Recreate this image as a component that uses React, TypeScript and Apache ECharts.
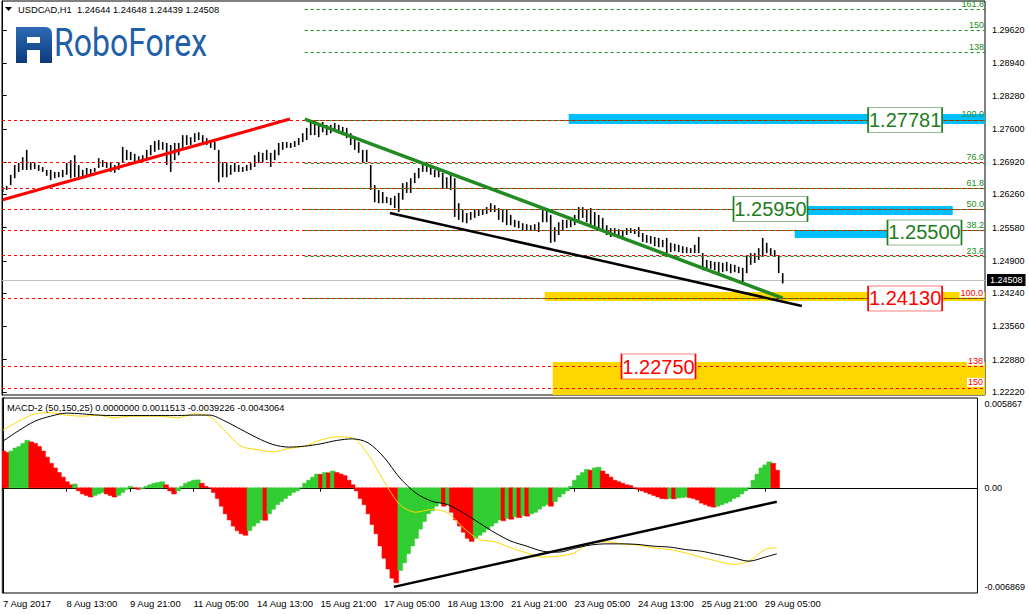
import React, { useEffect, useRef } from 'react';
import * as echarts from 'echarts';

const FONT = "'Liberation Sans', Arial, sans-serif";

const headerText = 'USDCAD,H1  1.24644 1.24648 1.24439 1.24508';
const macdHeaderText = 'MACD-2 (50,150,25) 0.0000000 0.0011513 -0.0039226 -0.0043064';

// 2-hour OHLC bars (high / low)
const priceHigh = [
  1.2641, 1.2643, 1.2666, 1.2686, 1.2690, 1.2702, 1.2717, 1.2692, 1.2690, 1.2686,
  1.2682, 1.2676, 1.2676, 1.2672, 1.2672, 1.2676, 1.2690, 1.2696, 1.2706, 1.2686,
  1.2676, 1.2680, 1.2678, 1.2680, 1.2700, 1.2696, 1.2692, 1.2690, 1.2686, 1.2692,
  1.2723, 1.2717, 1.2713, 1.2709, 1.2704, 1.2706, 1.2717, 1.2727, 1.2735, 1.2737,
  1.2733, 1.2731, 1.2727, 1.2731, 1.2731, 1.2747, 1.2747, 1.2743, 1.2751, 1.2753,
  1.2747, 1.2741, 1.2737, 1.2733, 1.2717, 1.2692, 1.2690, 1.2686, 1.2690, 1.2686,
  1.2682, 1.2686, 1.2690, 1.2706, 1.2713, 1.2711, 1.2717, 1.2711, 1.2717, 1.2731,
  1.2733, 1.2733, 1.2731, 1.2735, 1.2741, 1.2751, 1.2762, 1.2774, 1.2778, 1.2772,
  1.2774, 1.2768, 1.2768, 1.2772, 1.2768, 1.2764, 1.2762, 1.2751, 1.2741, 1.2733,
  1.2717, 1.2717, 1.2686, 1.2645, 1.2635, 1.2631, 1.2621, 1.2619, 1.2623, 1.2629,
  1.2649, 1.2651, 1.2659, 1.2670, 1.2680, 1.2690, 1.2692, 1.2682, 1.2676, 1.2676,
  1.2670, 1.2661, 1.2666, 1.2659, 1.2608, 1.2594, 1.2588, 1.2590, 1.2594, 1.2594,
  1.2594, 1.2600, 1.2608, 1.2604, 1.2598, 1.2594, 1.2594, 1.2584, 1.2574, 1.2572,
  1.2567, 1.2565, 1.2563, 1.2565, 1.2569, 1.2594, 1.2598, 1.2584, 1.2559, 1.2569,
  1.2574, 1.2574, 1.2574, 1.2584, 1.2600, 1.2600, 1.2594, 1.2598, 1.2590, 1.2584,
  1.2578, 1.2563, 1.2557, 1.2557, 1.2555, 1.2553, 1.2557, 1.2557, 1.2555, 1.2559,
  1.2547, 1.2543, 1.2541, 1.2539, 1.2537, 1.2533, 1.2537, 1.2527, 1.2525, 1.2523,
  1.2520, 1.2518, 1.2516, 1.2523, 1.2539, 1.2506, 1.2492, 1.2490, 1.2488, 1.2488,
  1.2486, 1.2488, 1.2484, 1.2482, 1.2478, 1.2476, 1.2502, 1.2506, 1.2506, 1.2516,
  1.2537, 1.2527, 1.2516, 1.2512, 1.2502, 1.2465,
];
const priceLow = [
  1.2631, 1.2635, 1.2645, 1.2659, 1.2672, 1.2676, 1.2676, 1.2676, 1.2678, 1.2674,
  1.2672, 1.2664, 1.2655, 1.2659, 1.2661, 1.2661, 1.2666, 1.2659, 1.2661, 1.2659,
  1.2661, 1.2666, 1.2666, 1.2672, 1.2680, 1.2682, 1.2680, 1.2672, 1.2670, 1.2676,
  1.2690, 1.2696, 1.2696, 1.2692, 1.2696, 1.2692, 1.2700, 1.2706, 1.2713, 1.2717,
  1.2717, 1.2686, 1.2672, 1.2696, 1.2706, 1.2721, 1.2727, 1.2727, 1.2733, 1.2737,
  1.2733, 1.2727, 1.2721, 1.2717, 1.2651, 1.2661, 1.2661, 1.2666, 1.2672, 1.2672,
  1.2672, 1.2674, 1.2676, 1.2682, 1.2690, 1.2692, 1.2696, 1.2682, 1.2696, 1.2706,
  1.2717, 1.2721, 1.2721, 1.2723, 1.2727, 1.2733, 1.2737, 1.2747, 1.2747, 1.2743,
  1.2753, 1.2747, 1.2751, 1.2758, 1.2751, 1.2747, 1.2741, 1.2727, 1.2717, 1.2711,
  1.2690, 1.2692, 1.2635, 1.2610, 1.2608, 1.2608, 1.2608, 1.2604, 1.2598, 1.2590,
  1.2615, 1.2629, 1.2629, 1.2649, 1.2659, 1.2672, 1.2672, 1.2666, 1.2661, 1.2661,
  1.2639, 1.2639, 1.2635, 1.2580, 1.2574, 1.2569, 1.2567, 1.2574, 1.2578, 1.2582,
  1.2584, 1.2586, 1.2590, 1.2590, 1.2574, 1.2569, 1.2563, 1.2563, 1.2559, 1.2557,
  1.2553, 1.2553, 1.2553, 1.2551, 1.2549, 1.2569, 1.2569, 1.2527, 1.2529, 1.2543,
  1.2553, 1.2557, 1.2559, 1.2563, 1.2574, 1.2578, 1.2569, 1.2563, 1.2559, 1.2557,
  1.2549, 1.2543, 1.2539, 1.2541, 1.2539, 1.2539, 1.2543, 1.2547, 1.2545, 1.2539,
  1.2529, 1.2527, 1.2525, 1.2520, 1.2518, 1.2518, 1.2506, 1.2508, 1.2510, 1.2508,
  1.2506, 1.2506, 1.2506, 1.2506, 1.2506, 1.2471, 1.2471, 1.2474, 1.2471, 1.2465,
  1.2467, 1.2469, 1.2465, 1.2467, 1.2465, 1.2445, 1.2465, 1.2482, 1.2486, 1.2492,
  1.2498, 1.2506, 1.2502, 1.2498, 1.2465, 1.2444,
];
const barHours = priceHigh.map((_, i) => i * 2);

// MACD-2 histogram (same 2-hour slots)
const macdHist = [
  0.0024, 0.0023, 0.0024, 0.0026, 0.0027, 0.0029, 0.0031, 0.0030, 0.0029, 0.0027,
  0.0024, 0.0020, 0.0016, 0.0013, 0.0010, 0.0007, 0.0004, 0.0002, 0.00025, -0.0002,
  -0.0004, -0.0005, -0.0006, -0.0005, -0.0004, -0.0003, -0.0004, -0.0005, -0.0006, -0.0005,
  -0.0003, -0.0001, 0.0001, 0.0000, -0.0001, -0.00005, 0.0001, 0.0002, 0.0003, 0.00035,
  0.0004, 0.0002, -0.0002, -0.0004, -0.0002, 0.0001, 0.0003, 0.0004, 0.0005, 0.00052,
  0.0003, 0.0001, 0.0000, -0.0003, -0.0007, -0.0012, -0.0017, -0.0021, -0.0025, -0.0028,
  -0.0030, -0.0031, -0.0028, -0.0025, -0.0023, -0.0021, -0.00212, -0.0017, -0.0014, -0.0011,
  -0.0009, -0.0007, -0.0005, -0.0003, -0.0002, 0.0000, 0.0003, 0.0005, 0.0007, 0.0009,
  0.00088, 0.0010, 0.00098, 0.0011, 0.0010, 0.0009, 0.0008, 0.0005, 0.0002, -0.0002,
  -0.0007, -0.0011, -0.0017, -0.0024, -0.0030, -0.0038, -0.0046, -0.0053, -0.0059, -0.0062,
  -0.0054, -0.0049, -0.0043, -0.0038, -0.0033, -0.0027, -0.0022, -0.0017, -0.0015, -0.0012,
  -0.0010, -0.0012, -0.0011, -0.0016, -0.0021, -0.0025, -0.0029, -0.0033, -0.0035, -0.0033,
  -0.0031, -0.0029, -0.0027, -0.0025, -0.0023, -0.0021, -0.00215, -0.0020, -0.00205, -0.0019,
  -0.00195, -0.0018, -0.00185, -0.0017, -0.0016, -0.0014, -0.0012, -0.0011, -0.0012, -0.0009,
  -0.0006, -0.0004, -0.0002, 0.0001, 0.0005, 0.0008, 0.0010, 0.0012, 0.00115, 0.0013,
  0.00135, 0.0011, 0.0009, 0.0007, 0.0005, 0.0004, 0.0003, 0.0002, 0.00015, 0.0000,
  -0.0001, -0.0002, -0.0003, -0.0004, -0.0005, -0.0006, -0.0007, -0.00072, -0.00068, -0.00072,
  -0.00066, -0.00064, -0.0006, -0.00065, -0.0007, -0.0008, -0.0010, -0.0011, -0.0012, -0.00126,
  -0.0012, -0.0011, -0.0010, -0.0009, -0.0007, -0.0006, -0.0004, -0.0002, 0.0000, 0.0005,
  0.0009, 0.0013, 0.0015, 0.0017, 0.0016, 0.00115,
];

// MACD lines, sampled every 8 hours
const lineHours = [
  0, 8, 16, 24, 32, 40, 48, 56, 64, 72, 80, 88, 96, 104, 112, 120, 128, 136, 144, 152,
  160, 168, 176, 184, 192, 200, 208, 216, 224, 232, 240, 248, 256, 264, 272, 280, 288, 296, 304, 312,
  320, 328, 336, 344, 352, 360, 368, 376, 384, 390,
];
const macdMain = [
  0.00377, 0.00435, 0.00483, 0.0049, 0.00475, 0.00468, 0.00475, 0.00457, 0.00468, 0.00468,
  0.00468, 0.00457, 0.00483, 0.00468, 0.0037, 0.00272, 0.0025, 0.00235, 0.00257, 0.00272,
  0.00311, 0.00333, 0.00327, 0.00218, 0.00044, -0.00109, -0.00159, -0.00142, -0.00163, -0.00261,
  -0.00337, -0.00353, -0.00392, -0.00425, -0.00453, -0.00446, -0.00425, -0.00359, -0.00353, -0.00366,
  -0.00374, -0.00392, -0.00403, -0.00425, -0.00453, -0.00479, -0.005, -0.00479, -0.00403, -0.00392,
];
const macdSignal = [
  0.00305, 0.00374, 0.00435, 0.00468, 0.00488, 0.00483, 0.00475, 0.00472, 0.00472, 0.00472,
  0.00472, 0.00472, 0.00475, 0.00475, 0.00435, 0.00381, 0.00327, 0.00283, 0.00266, 0.00272,
  0.00287, 0.00309, 0.0032, 0.00294, 0.002, 0.00065, -0.00033, -0.00087, -0.00109, -0.00163,
  -0.00229, -0.00294, -0.00348, -0.00381, -0.00414, -0.0042, -0.00396, -0.00374, -0.00366, -0.00366,
  -0.0037, -0.00381, -0.00387, -0.00403, -0.00414, -0.00435, -0.00457, -0.00479, -0.00453, -0.00431,
];

// axis ticks
const priceTicks = [1.2962, 1.2894, 1.2828, 1.276, 1.2692, 1.2626, 1.2558, 1.249, 1.2424, 1.2356, 1.2288, 1.2222];
const timeTickHours = [0, 32, 64, 96, 128, 160, 192, 224, 256, 288, 320, 352, 384];
const timeTickLabels = [
  '7 Aug 2017', '8 Aug 13:00', '9 Aug 21:00', '11 Aug 05:00', '14 Aug 13:00', '15 Aug 21:00',
  '17 Aug 05:00', '18 Aug 13:00', '21 Aug 21:00', '23 Aug 05:00', '24 Aug 13:00', '25 Aug 21:00', '29 Aug 05:00',
];
const macdLabelValues = [0.005475, 0, -0.006477];
const macdTickLabels = ['0.005867', '0.00', '-0.006869'];

const priceMin = 1.22159;
const priceMax = 1.30213;
const macdMin = -0.006869;
const macdMax = 0.005867;
const hourMin = -0.35;
const hourMax = 491.15;
const lastPrice = 1.24508;

// drawn objects (data coordinates: hour index, price)
const redTrend = [[0, 1.2615], [143.6, 1.278]];
const greenTrend = [[151, 1.278], [390, 1.2414]];
const blackTrend = [[193.6, 1.2588], [399.6, 1.2398]];
const macdTrend = [[197, -0.00647], [390, -0.00091]];

const fibHigh = 1.27781;
const fibLow = 1.2413;
const greenFibStartHour = 151;
const greenFibLevels = [0, 23.6, 38.2, 50, 61.8, 76, 100, 138, 150, 161.8];
const greenFibLabels = ['', '23.6', '38.2', '50.0', '61.8', '76.0', '100.0', '138', '150', '161.8'];
const redFibLevels = [0, 23.6, 38.2, 50, 61.8, 76, 100, 138, 150];
const redFibLabels = ['', '', '', '', '', '', '100.0', '138', '150'];

const zones = [
  { from: [283, 1.27698], to: [hourMax, 1.27903], color: '#00BFFF' },
  { from: [402.6, 1.25838], to: [475, 1.26022], color: '#00BFFF' },
  { from: [396, 1.25368], to: [479, 1.25532], color: '#00BFFF' },
  { from: [271, 1.2408], to: [hourMax, 1.24264], color: '#FFD700' },
  { from: [275, priceMin], to: [hourMax, 1.22834], color: '#FFD700' },
];
const labelBoxes = [
  { text: '1.27781', at: [451.2, 1.27781], color: '#1e7d1e' },
  { text: '1.25950', at: [383.9, 1.2596], color: '#1e7d1e' },
  { text: '1.25500', at: [460.9, 1.25481], color: '#1e7d1e' },
  { text: '1.24130', at: [451.2, 1.24132], color: '#ff0000' },
  { text: '1.22750', at: [327.9, 1.22741], color: '#ff0000' },
];

const LOGO_PATH = 'M0 0 H29 Q36 0 36 7 V36 H24 V23 H11 V36 H0 Z M11 10 V16 H24 V10 Z';

const FIB_GREEN = '#1a8c1a';
const FIB_RED = '#ff0000';

function buildOption() {
  const fibRange = fibHigh - fibLow;
  const greenFibData = greenFibLevels.map((r, i) => {
    const p = fibLow + (r / 100) * fibRange;
    return [
      { coord: [greenFibStartHour, p], label: { show: greenFibLabels[i] !== '', formatter: greenFibLabels[i] } },
      { coord: [hourMax, p] },
    ];
  });
  const redFibData = redFibLevels.map((r, i) => {
    const p = fibHigh - (r / 100) * fibRange;
    return [
      { coord: [hourMin, p], label: { show: redFibLabels[i] !== '', formatter: redFibLabels[i] } },
      { coord: [hourMax, p] },
    ];
  });

  const logoFill = new echarts.graphic.LinearGradient(0, 0, 0, 1, [
    { offset: 0, color: '#2e6bb6' },
    { offset: 1, color: '#0b3a7b' },
  ]);

  return {
    animation: false,
    backgroundColor: '#ffffff',
    textStyle: { fontFamily: FONT },
    grid: [
      { left: 2, top: 1, width: 983, height: 394, show: true, borderColor: '#000', borderWidth: 1, backgroundColor: 'transparent' },
      { left: 2, top: 398, width: 983, height: 195, show: true, borderColor: '#000', borderWidth: 1, backgroundColor: 'transparent' },
    ],
    xAxis: [
      { type: 'value', gridIndex: 0, min: hourMin, max: hourMax, show: false },
      {
        type: 'value', gridIndex: 1, min: hourMin, max: hourMax, position: 'bottom',
        axisLine: { show: true, lineStyle: { color: '#000', width: 1 } },
        axisTick: { show: true, length: 4, lineStyle: { color: '#000' }, customValues: timeTickHours },
        axisLabel: {
          customValues: timeTickHours,
          formatter: (v: number) => {
            const i = timeTickHours.findIndex((h) => Math.abs(h - v) < 0.01);
            return i >= 0 ? timeTickLabels[i] : '';
          },
          align: 'left', fontSize: 9.5, color: '#000', margin: 5, fontFamily: FONT,
        },
        splitLine: { show: false },
      },
    ],
    yAxis: [
      {
        type: 'value', gridIndex: 0, min: priceMin, max: priceMax, position: 'right',
        axisLine: { show: true, lineStyle: { color: '#000' } },
        axisTick: { show: true, length: 4, lineStyle: { color: '#000' }, customValues: priceTicks },
        axisLabel: { customValues: priceTicks, formatter: (v: number) => v.toFixed(5), fontSize: 9, color: '#000', margin: 7, fontFamily: FONT },
        splitLine: { show: false },
      },
      {
        type: 'value', gridIndex: 1, min: macdMin, max: macdMax, position: 'right',
        axisLine: { show: true, lineStyle: { color: '#000' } },
        axisTick: { show: true, length: 4, lineStyle: { color: '#000' }, customValues: [0] },
        axisLabel: {
          customValues: macdLabelValues,
          formatter: (v: number) => {
            const i = macdLabelValues.findIndex((x) => Math.abs(x - v) < 1e-6);
            return i >= 0 ? macdTickLabels[i] : '';
          },
          fontSize: 9, color: '#000', margin: 7, fontFamily: FONT,
        },
        splitLine: { show: false },
      },
    ],
    series: [
      {
        type: 'line', xAxisIndex: 0, yAxisIndex: 0, data: [], silent: true,
        markArea: {
          silent: true, z: 1,
          data: zones.map((zn) => [
            { coord: zn.from, itemStyle: { color: zn.color, opacity: 1 } },
            { coord: zn.to },
          ]),
        },
      },
      {
        type: 'line', xAxisIndex: 0, yAxisIndex: 0, data: [], silent: true,
        markLine: {
          silent: true, symbol: 'none', z: 1,
          lineStyle: { color: '#c0c0c0', type: 'solid', width: 1 },
          label: {
            show: true, position: 'end', formatter: lastPrice.toFixed(5), backgroundColor: '#000', color: '#fff',
            fontSize: 9, fontFamily: FONT, padding: [2, 3, 1, 3], distance: 2,
          },
          data: [[{ coord: [hourMin, lastPrice] }, { coord: [hourMax, lastPrice] }]],
        },
      },
      {
        type: 'custom', xAxisIndex: 0, yAxisIndex: 0, z: 2, silent: true, clip: true,
        data: barHours.map((h, i) => [h, priceLow[i], priceHigh[i]]),
        renderItem: (params: any, api: any) => {
          const lo = api.coord([api.value(0), api.value(1)]);
          const hi = api.coord([api.value(0), api.value(2)]);
          return {
            type: 'line',
            shape: { x1: lo[0], y1: lo[1], x2: hi[0], y2: hi[1] },
            style: { stroke: '#000', lineWidth: 1.6 },
          };
        },
      },
      {
        type: 'line', xAxisIndex: 0, yAxisIndex: 0, data: [], silent: true,
        markLine: {
          silent: true, symbol: 'none', z: 3,
          lineStyle: { color: FIB_RED, type: [3, 3], width: 1 },
          label: { position: 'insideEndTop', color: FIB_RED, fontSize: 9, fontFamily: FONT, distance: 1, backgroundColor: '#fff', padding: [0, 1] },
          data: redFibData,
        },
      },
      {
        type: 'line', xAxisIndex: 0, yAxisIndex: 0, data: [], silent: true,
        markLine: {
          silent: true, symbol: 'none', z: 3,
          lineStyle: { color: FIB_GREEN, type: [3, 3], width: 1 },
          label: { position: 'insideEndTop', color: FIB_GREEN, fontSize: 9, fontFamily: FONT, distance: 1 },
          data: greenFibData,
        },
      },
      {
        type: 'line', xAxisIndex: 0, yAxisIndex: 0, data: redTrend, symbol: 'none', silent: true, z: 4,
        lineStyle: { color: '#ff0000', width: 3 },
      },
      {
        type: 'line', xAxisIndex: 0, yAxisIndex: 0, data: greenTrend, symbol: 'none', silent: true, z: 4,
        lineStyle: { color: '#228b22', width: 3.5 },
      },
      {
        type: 'line', xAxisIndex: 0, yAxisIndex: 0, data: blackTrend, symbol: 'none', silent: true, z: 4,
        lineStyle: { color: '#000', width: 2.5 },
      },
      {
        type: 'line', xAxisIndex: 0, yAxisIndex: 0, data: [], silent: true,
        markPoint: {
          silent: true, z: 6,
          data: labelBoxes.map((b) => ({
            coord: b.at,
            symbol: 'rect',
            symbolSize: [74, 25],
            itemStyle: { color: '#fff', borderColor: b.color, borderWidth: 1 },
            label: { show: true, position: 'inside', formatter: b.text, color: b.color, fontSize: 20, fontFamily: FONT },
          })),
        },
      },
      {
        type: 'custom', xAxisIndex: 1, yAxisIndex: 1, z: 2, silent: true, clip: true,
        data: barHours.map((h, i) => [h, macdHist[i]]),
        renderItem: (params: any, api: any) => {
          const i = params.dataIndex;
          const h = api.value(0);
          const v = api.value(1);
          const a = api.coord([h - 1, 0]);
          const b = api.coord([h + 1, v]);
          const up = i > 0 && macdHist[i] > macdHist[i - 1];
          const color = up ? '#32CD32' : '#FF0000';
          return {
            type: 'rect',
            shape: { x: a[0], y: Math.min(a[1], b[1]), width: b[0] - a[0] + 0.8, height: Math.abs(b[1] - a[1]) },
            style: { fill: color, stroke: color, lineWidth: 0.5 },
          };
        },
      },
      {
        type: 'line', xAxisIndex: 1, yAxisIndex: 1, z: 3, silent: true, symbol: 'none', smooth: 0.3,
        data: lineHours.map((h, i) => [h, macdMain[i]]),
        lineStyle: { color: '#FFD700', width: 1 },
      },
      {
        type: 'line', xAxisIndex: 1, yAxisIndex: 1, z: 3, silent: true, symbol: 'none', smooth: 0.3,
        data: lineHours.map((h, i) => [h, macdSignal[i]]),
        lineStyle: { color: '#000', width: 1 },
      },
      {
        type: 'line', xAxisIndex: 1, yAxisIndex: 1, z: 4, silent: true, symbol: 'none',
        data: macdTrend,
        lineStyle: { color: '#000', width: 2.5 },
      },
    ],
    graphic: [
      { type: 'polygon', z: 100, silent: true, shape: { points: [[5, 7], [12, 7], [8.5, 11]] }, style: { fill: '#000' } },
      { type: 'text', z: 100, silent: true, x: 18, y: 10, style: { text: headerText, fontSize: 9.3, fontFamily: FONT, fill: '#000', verticalAlign: 'middle' } },
      { type: 'roboLogo', z: 100, silent: true, x: 16, y: 27, style: { fill: logoFill } },
      { type: 'text', z: 100, silent: true, x: 54, y: 43, scaleX: 0.82, style: { text: 'RoboForex', fontSize: 39, fontFamily: 'Roboto', fill: '#2160a8', verticalAlign: 'middle' } },
      { type: 'text', z: 100, silent: true, x: 7, y: 408, style: { text: macdHeaderText, fontSize: 9.3, fontFamily: FONT, fill: '#000', verticalAlign: 'middle' } },
    ],
  };
}

export default function App() {
  const ref = useRef<HTMLDivElement>(null);
  useEffect(() => {
    if (!ref.current) return;
    echarts.graphic.registerShape('roboLogo', echarts.graphic.extendPath(LOGO_PATH, {}));
    const chart = echarts.init(ref.current, null, { renderer: 'svg' });
    chart.setOption(buildOption() as any);
    return () => chart.dispose();
  }, []);
  return (
    <div
      ref={ref}
      style={{ position: 'fixed', left: 0, top: 0, width: 1028, height: 614, background: '#fff' }}
    />
  );
}
